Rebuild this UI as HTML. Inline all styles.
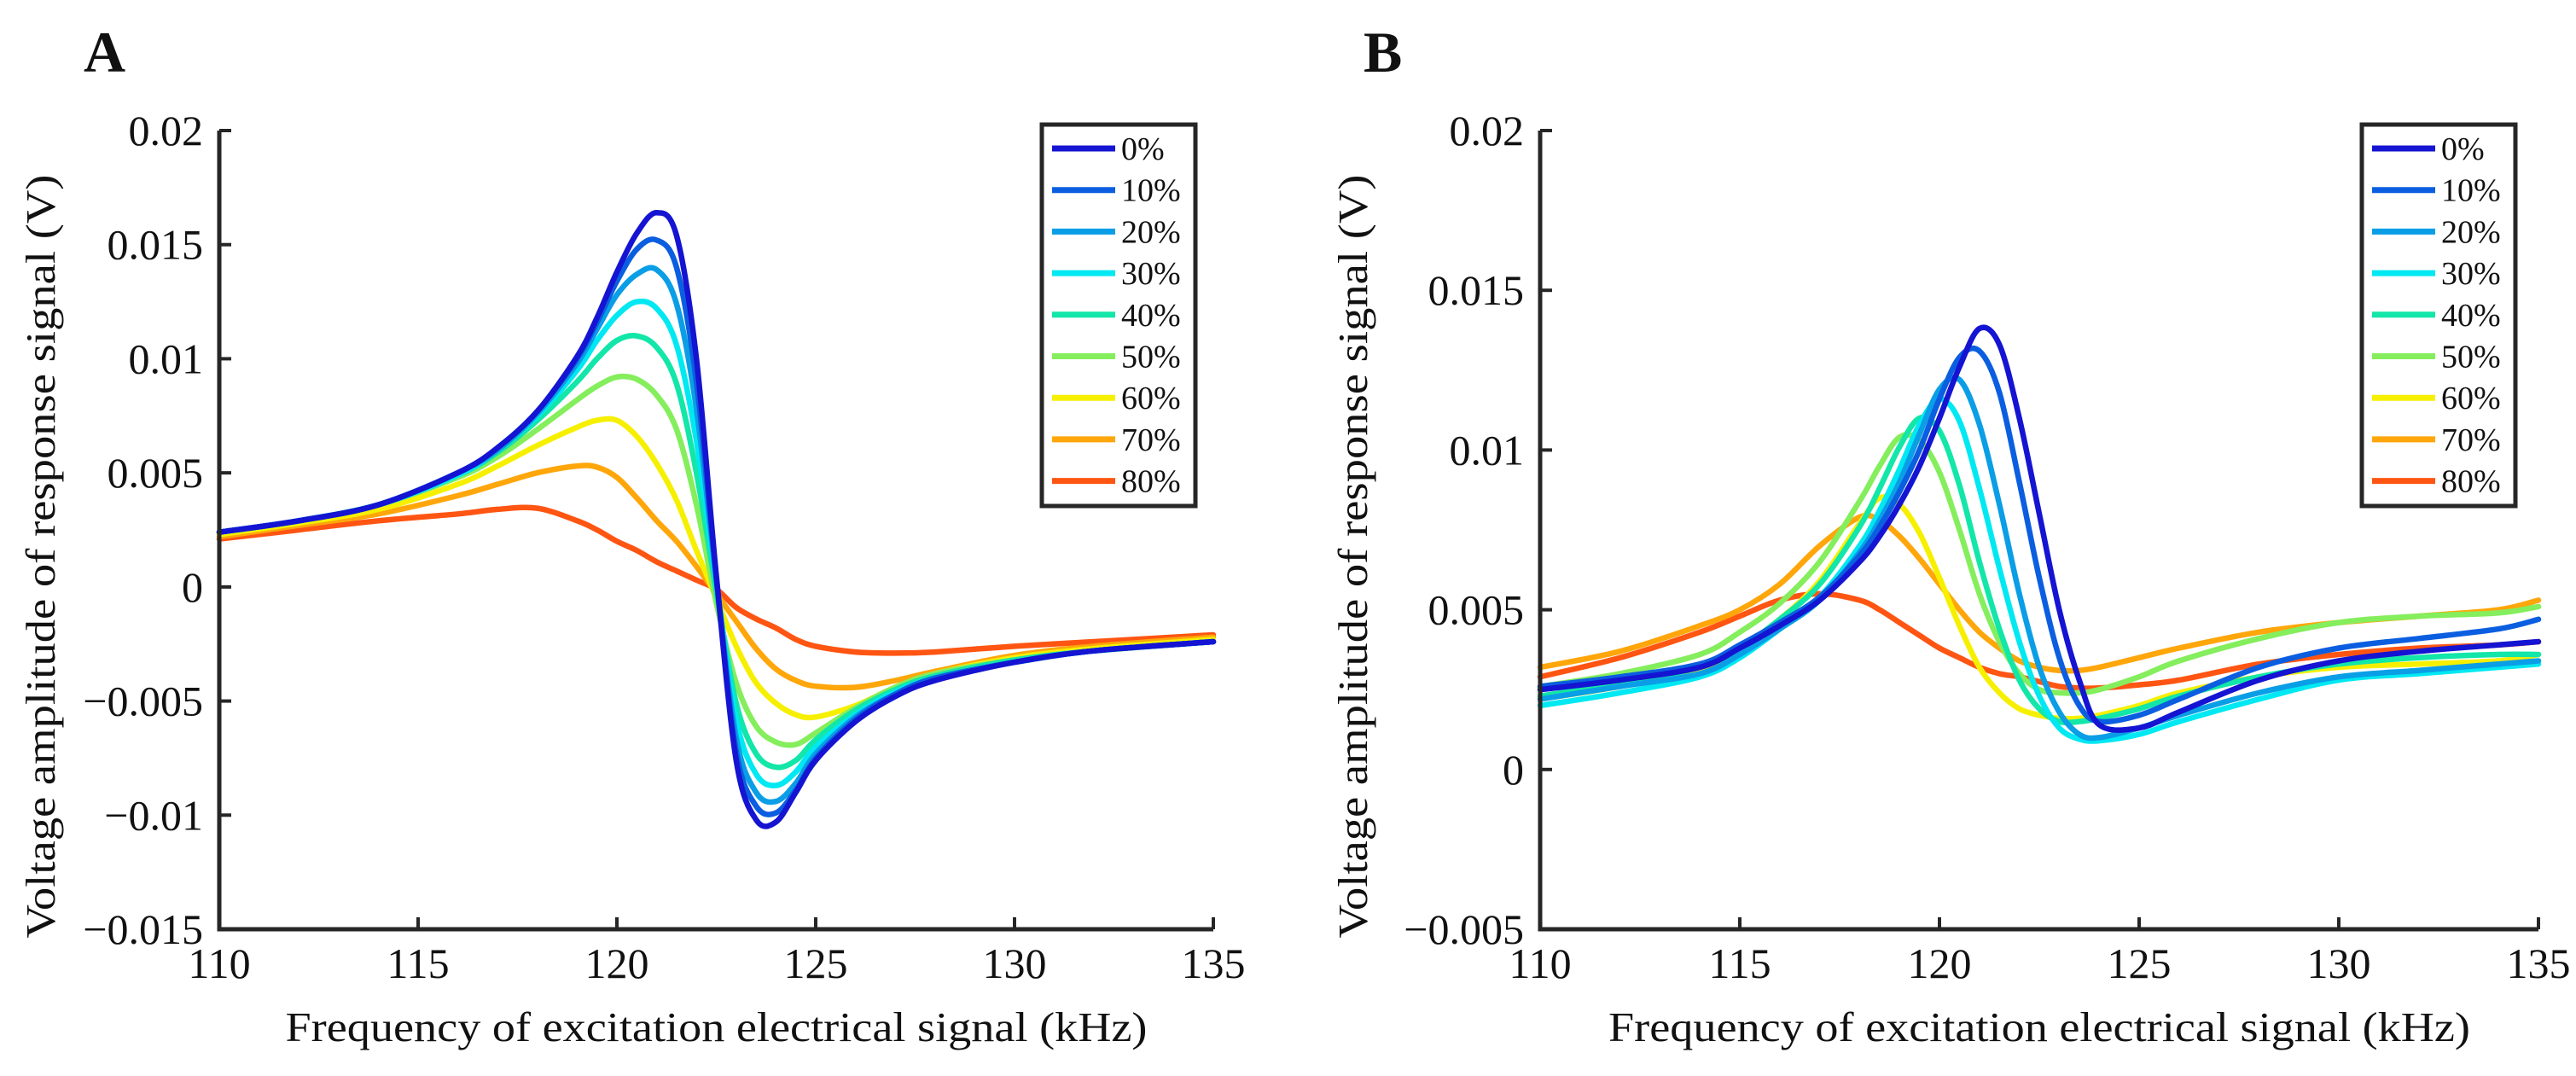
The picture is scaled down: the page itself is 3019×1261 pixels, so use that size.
<!DOCTYPE html>
<html><head><meta charset="utf-8">
<style>
html,body{margin:0;padding:0;background:#fff;}
svg{display:block;}
text{font-family:"Liberation Serif",serif;fill:#111;}
</style></head>
<body>
<svg id="fig" width="3019" height="1261" viewBox="0 0 3019 1261" xmlns="http://www.w3.org/2000/svg"></svg>
<script>
const seriesLabels = ["0%","10%","20%","30%","40%","50%","60%","70%","80%"];
const seriesColors = ["#1414d2","#0b5ee0","#0a9ee6","#00e8f2","#12e6a8","#84ee5c","#f6f000","#ffa60a","#ff5512"];
const xTicks = [110,115,120,125,130,135];
const yTicksA = [0.02,0.015,0.01,0.005,0,-0.005,-0.01,-0.015];
const yTickLabelsA = ["0.02","0.015","0.01","0.005","0","\u22120.005","\u22120.01","\u22120.015"];
const yTicksB = [0.02,0.015,0.01,0.005,0,-0.005];
const yTickLabelsB = ["0.02","0.015","0.01","0.005","0","\u22120.005"];

// Panel A (values in mV)
const freqA = [110,112,114,116,117,118,119,119.5,120,120.5,121,121.5,122,122.5,123,123.5,124,124.5,125,126,127,128,130,132,135];
const a0  = [2.4,2.9,3.6,5.0,6.1,7.7,10.1,11.8,13.8,15.5,16.4,15.4,10.0,0.5,-7.6,-10.2,-10.3,-9.0,-7.6,-5.9,-4.8,-4.1,-3.3,-2.8,-2.4];
const a10 = [2.4,2.9,3.6,5.0,6.1,7.7,10.0,11.6,13.4,14.8,15.2,14.0,9.0,0.4,-7.2,-9.6,-9.9,-8.9,-7.5,-5.8,-4.7,-4.0,-3.3,-2.8,-2.4];
const a20 = [2.4,2.9,3.6,5.0,6.0,7.6,9.8,11.3,12.8,13.7,13.9,12.4,7.8,0.3,-6.6,-9.0,-9.4,-8.6,-7.3,-5.7,-4.7,-4.0,-3.3,-2.8,-2.4];
const a30 = [2.4,2.9,3.6,4.9,6.0,7.5,9.5,10.8,11.9,12.5,12.2,10.6,6.4,0.2,-5.8,-8.2,-8.7,-8.1,-7.0,-5.6,-4.6,-4.0,-3.3,-2.8,-2.4];
const a40 = [2.4,2.9,3.6,4.9,5.9,7.3,9.0,10.0,10.8,11.0,10.5,8.9,5.0,-0.2,-5.1,-7.3,-7.9,-7.6,-6.7,-5.4,-4.5,-3.9,-3.2,-2.8,-2.4];
const a50 = [2.4,2.9,3.6,4.8,5.7,6.9,8.2,8.8,9.2,9.1,8.4,6.9,3.6,-0.7,-4.2,-6.1,-6.8,-6.9,-6.4,-5.3,-4.4,-3.8,-3.2,-2.8,-2.4];
const a60 = [2.3,2.8,3.4,4.5,5.3,6.2,7.0,7.3,7.3,6.6,5.4,3.8,1.6,-0.5,-2.6,-4.2,-5.1,-5.6,-5.7,-5.2,-4.4,-3.8,-3.1,-2.7,-2.3];
const a70 = [2.2,2.7,3.2,4.0,4.5,5.0,5.3,5.25,4.8,3.9,2.9,2.0,0.9,-0.3,-1.5,-2.7,-3.6,-4.1,-4.35,-4.4,-4.1,-3.7,-3.0,-2.6,-2.2];
const a80 = [2.1,2.5,2.9,3.2,3.4,3.45,2.9,2.5,2.0,1.6,1.1,0.7,0.3,-0.1,-0.9,-1.4,-1.8,-2.3,-2.6,-2.85,-2.9,-2.85,-2.6,-2.4,-2.1];

// Panel B (values in mV)
const freqB = [110,112,114,115,116,117,118,118.5,119,119.5,120,120.5,121,121.5,122,122.5,123,123.5,124,125,126,128,130,132,134,135];
const b0  = [2.5,2.8,3.2,3.8,4.5,5.3,6.5,7.3,8.3,9.5,11.0,12.6,13.8,13.3,11.0,8.0,5.0,2.8,1.4,1.3,1.8,2.8,3.4,3.7,3.9,4.0];
const b10 = [2.6,2.9,3.3,3.9,4.6,5.4,6.7,7.6,8.7,10.0,11.6,12.9,13.1,11.8,9.0,6.0,3.5,2.0,1.5,1.7,2.2,3.2,3.8,4.1,4.4,4.7];
const b20 = [2.2,2.6,3.0,3.6,4.4,5.3,6.8,7.8,9.0,10.5,11.9,12.2,10.8,8.3,5.5,3.2,1.8,1.1,1.0,1.3,1.7,2.4,2.9,3.1,3.3,3.4];
const b30 = [2.0,2.4,2.9,3.5,4.4,5.4,7.0,8.1,9.4,10.8,11.6,10.9,8.8,6.3,4.0,2.3,1.3,0.95,0.9,1.1,1.5,2.2,2.8,3.0,3.2,3.3];
const b40 = [2.3,2.7,3.2,3.8,4.7,5.8,7.6,8.8,10.1,11.0,10.6,8.9,6.5,4.4,2.8,1.9,1.5,1.5,1.6,1.9,2.3,2.9,3.3,3.5,3.6,3.6];
const b50 = [2.6,3.0,3.6,4.3,5.2,6.5,8.4,9.5,10.4,10.3,9.3,7.5,5.5,4.0,3.0,2.5,2.4,2.4,2.5,2.9,3.4,4.1,4.6,4.8,4.9,5.1];
const b60 = [2.2,2.6,3.1,3.8,4.7,5.9,7.7,8.5,8.3,7.4,6.0,4.5,3.2,2.4,1.9,1.7,1.6,1.6,1.7,2.0,2.4,2.9,3.2,3.3,3.4,3.6];
const b70 = [3.2,3.7,4.5,5.0,5.8,7.0,7.9,7.8,7.3,6.6,5.8,5.0,4.3,3.8,3.4,3.2,3.1,3.1,3.2,3.5,3.8,4.3,4.6,4.8,5.0,5.3];
const b80 = [2.9,3.5,4.3,4.8,5.3,5.5,5.3,5.0,4.6,4.2,3.8,3.5,3.2,3.0,2.9,2.75,2.6,2.55,2.55,2.65,2.8,3.3,3.6,3.8,3.9,4.0];

const NS = "http://www.w3.org/2000/svg";
const fig = document.getElementById('fig');
function mk(tag, attrs, parent){
  const e = document.createElementNS(NS, tag);
  for (const k in attrs) e.setAttribute(k, attrs[k]);
  (parent||fig).appendChild(e);
  return e;
}
function smoothPath(pts){
  let d = "M" + pts[0][0].toFixed(1) + "," + pts[0][1].toFixed(1);
  for (let i=0;i<pts.length-1;i++){
    const p0 = pts[Math.max(0,i-1)], p1 = pts[i], p2 = pts[i+1], p3 = pts[Math.min(pts.length-1,i+2)];
    const t = 6;
    const c1x = p1[0]+(p2[0]-p0[0])/t, c1y = p1[1]+(p2[1]-p0[1])/t;
    const c2x = p2[0]-(p3[0]-p1[0])/t, c2y = p2[1]-(p3[1]-p1[1])/t;
    d += " C"+c1x.toFixed(1)+","+c1y.toFixed(1)+" "+c2x.toFixed(1)+","+c2y.toFixed(1)+" "+p2[0].toFixed(1)+","+p2[1].toFixed(1);
  }
  return d;
}

function panel(cfg){
  const g = mk('g', {});
  
  
  const xScale = v => cfg.x0 + (v - 110) / 25 * (cfg.x1 - cfg.x0);
  const yScale = v => cfg.yTop + (cfg.yMax - v) / (cfg.yMax - cfg.yMin) * (cfg.yBot - cfg.yTop);

  const L = mk('text', {x: cfg.letterX, y: 84, 'font-size': 68, 'font-weight': 'bold'}, g);
  L.textContent = cfg.letter;
  
  

  const sg = mk('g', {fill: 'none', 'stroke-width': 6.5, 'stroke-linejoin': 'round', 'stroke-linecap': 'round'}, g);
  
  
  for (let s = cfg.series.length - 1; s >= 0; s--){
    const pts = cfg.freq.map((f, i) => [xScale(f), yScale(cfg.series[s][i] / 1000)]);
    const p = mk('path', {d: smoothPath(pts), stroke: seriesColors[s]}, sg);
    
    
  }

  const ax = mk('path', {d: `M${cfg.x0},${cfg.yTop} V${cfg.yBot} H${cfg.x1}`, fill: 'none', stroke: '#262626', 'stroke-width': 5}, g);
  
  

  cfg.yTicks.forEach((v, i) => {
    const y = yScale(v);
    const t = mk('line', {x1: cfg.x0, x2: cfg.x0 + 14, y1: y, y2: y, stroke: '#262626', 'stroke-width': 4}, g);
    
    
    const lb = mk('text', {x: cfg.x0 - 19, y: y + 17, 'font-size': 50, 'text-anchor': 'end'}, g);
    lb.textContent = cfg.yLabels[i];
    
    
  });
  xTicks.forEach(v => {
    const x = xScale(v);
    const t = mk('line', {x1: x, x2: x, y1: cfg.yBot, y2: cfg.yBot - 14, stroke: '#262626', 'stroke-width': 4}, g);
    
    
    const lb = mk('text', {x: x, y: 1146, 'font-size': 50, 'text-anchor': 'middle'}, g);
    lb.textContent = String(v);
    
    
  });

  const xt = mk('text', {x: (cfg.x0 + cfg.x1) / 2, y: 1220, 'font-size': 49, 'text-anchor': 'middle', textLength: 1010, lengthAdjust: 'spacingAndGlyphs'}, g);
  xt.textContent = 'Frequency of excitation electrical signal (kHz)';
  
  

  const yt = mk('text', {x: 0, y: 0, 'font-size': 49, 'text-anchor': 'middle', textLength: 895, lengthAdjust: 'spacingAndGlyphs', transform: `translate(${cfg.yTitleX},652) rotate(-90)`}, g);
  yt.textContent = 'Voltage amplitude  of response signal (V)';
  
  

  const lg = mk('g', {}, g);
  
  
  const box = mk('rect', {x: cfg.legX, y: 146, width: 180, height: 447, fill: '#fff', stroke: '#262626', 'stroke-width': 5}, lg);
  
  
  seriesLabels.forEach((lab, i) => {
    const y = 174 + i * 48.7;
    const ln = mk('line', {x1: cfg.legX + 12, x2: cfg.legX + 86, y1: y, y2: y, stroke: seriesColors[i], 'stroke-width': 7}, lg);
    
    
    const tx = mk('text', {x: cfg.legX + 93, y: y + 13, 'font-size': 38}, lg);
    tx.textContent = lab;
    
    
  });
}

panel({name: 'panel-a', letter: 'A', letterX: 98, x0: 257, x1: 1422, yTop: 153, yBot: 1089, yMax: 0.02, yMin: -0.015,
  yTicks: yTicksA, yLabels: yTickLabelsA, freq: freqA, series: [a0,a10,a20,a30,a40,a50,a60,a70,a80],
  yTitleX: 64, legX: 1221});
panel({name: 'panel-b', letter: 'B', letterX: 1598, x0: 1805, x1: 2975, yTop: 153, yBot: 1089, yMax: 0.02, yMin: -0.005,
  yTicks: yTicksB, yLabels: yTickLabelsB, freq: freqB, series: [b0,b10,b20,b30,b40,b50,b60,b70,b80],
  yTitleX: 1602, legX: 2768});
</script>
</body></html>
